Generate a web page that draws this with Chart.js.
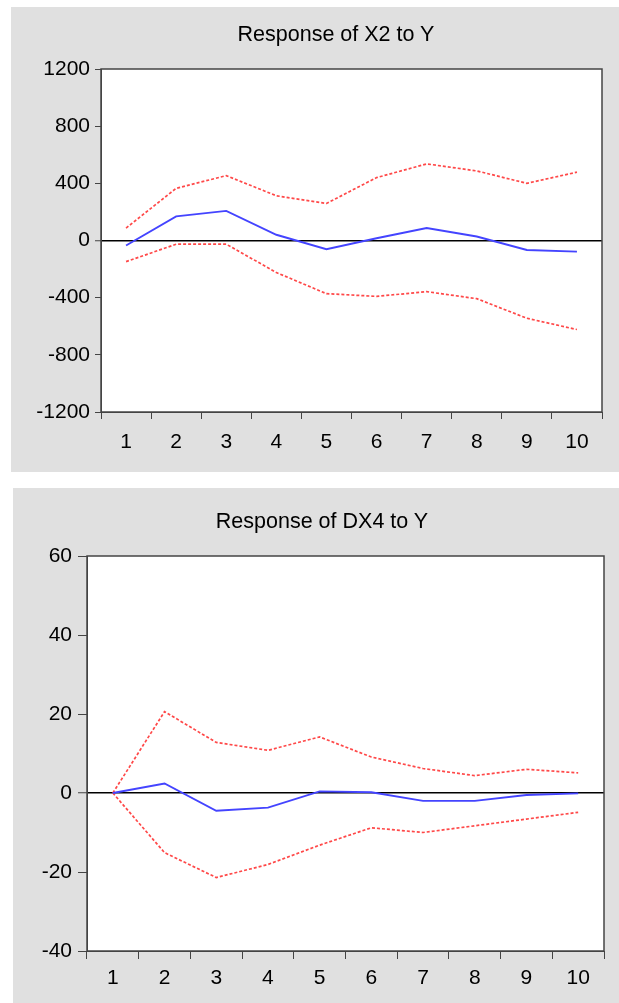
<!DOCTYPE html>
<html>
<head>
<meta charset="utf-8">
<script src="https://cdn.jsdelivr.net/npm/chart.js@4.4.1/dist/chart.umd.min.js"></script>
<style>
  body { margin: 0; background: #fff; width: 619px; height: 1003px; position: relative; overflow: hidden; }
  .panel { position: absolute; background: #e0e0e0; }
  .titulo { position: absolute; font-family: "Liberation Sans", Arial, sans-serif; font-size: 21.5px; line-height: 21.5px; color: #000; white-space: nowrap; transform: translateX(-50%); }
  canvas { position: absolute; }
</style>
</head>
<body>
<div class="panel" style="left:11px; top:7px; width:608px; height:465px;"></div>
<div class="panel" style="left:13px; top:488px; width:606px; height:515px;"></div>
<canvas id="graficoX2" width="608" height="465" style="left:11px; top:7px;"></canvas>
<canvas id="graficoDX4" width="606" height="515" style="left:13px; top:488px;"></canvas>
<div class="titulo" style="left:336px; top:24px;">Response of X2 to Y</div>
<div class="titulo" style="left:322px; top:511px;">Response of DX4 to Y</div>
<script>
// Periodos
const periodos = ["1", "2", "3", "4", "5", "6", "7", "8", "9", "10"]

// Respuesta de X2 a Y
const x2Respuesta = [-35, 169, 207, 40, -61, 16, 87, 28, -66, -78]
const x2Superior = [87, 365, 454, 313, 259, 440, 536, 487, 400, 478]
const x2Inferior = [-148, -26, -26, -224, -372, -391, -358, -407, -544, -623]
const x2Ticks = [-1200, -800, -400, 0, 400, 800, 1200]

// Respuesta de DX4 a Y
const dx4Respuesta = [0, 2.4, -4.5, -3.7, 0.4, 0.2, -2.0, -2.0, -0.5, -0.1]
const dx4Superior = [0, 20.6, 12.8, 10.8, 14.2, 9.1, 6.2, 4.4, 6.0, 5.1]
const dx4Inferior = [0, -15.1, -21.4, -18.1, -13.2, -8.8, -10.0, -8.3, -6.6, -4.9]
const dx4Ticks = [-40, -20, 0, 20, 40, 60]

const colores = {
  azul: "#4444ff",
  rojo: "#ff4848",
  ejes: "#444",
}

const fuente = { family: "'Liberation Sans', Arial, sans-serif", size: 21 }

// Fondo blanco y marco del area del grafico
const marcoPlugin = {
  id: "marco",
  beforeDraw(chart) {
    const a = chart.chartArea
    const ctx = chart.ctx
    ctx.save()
    ctx.fillStyle = "#fff"
    ctx.fillRect(a.left, a.top, a.right - a.left, a.bottom - a.top)
    ctx.restore()
  },
  afterDraw(chart) {
    const a = chart.chartArea
    const ctx = chart.ctx
    ctx.save()
    ctx.strokeStyle = colores.ejes
    ctx.lineWidth = 1.5
    ctx.strokeRect(a.left, a.top, a.right - a.left, a.bottom - a.top)
    ctx.restore()
  },
}

function crearGrafico(id, respuesta, superior, inferior, ticks, c) {
  const ctx = document.getElementById(id).getContext("2d")
  return new Chart(ctx, {
    type: "line",
    data: {
      labels: periodos,
      datasets: [
        { data: respuesta, borderColor: colores.azul, borderWidth: 1.9 },
        { data: superior, borderColor: colores.rojo, borderWidth: 1.7, borderDash: [3, 2] },
        { data: inferior, borderColor: colores.rojo, borderWidth: 1.7, borderDash: [3, 2] },
      ],
    },
    options: {
      responsive: false,
      animation: false,
      events: [],
      elements: { point: { radius: 0 }, line: { tension: 0 } },
      layout: { padding: { left: 0, top: c.top, right: c.right, bottom: 0 } },
      plugins: { legend: { display: false }, title: { display: false }, tooltip: { enabled: false } },
      scales: {
        x: {
          offset: true,
          afterFit: (s) => { s.height = c.altoX },
          grid: { offset: true, drawOnChartArea: false, color: colores.ejes, tickLength: c.tickX, lineWidth: 1 },
          border: { color: colores.ejes, width: 1 },
          ticks: { color: "#000", font: fuente, padding: c.padX, maxRotation: 0, autoSkip: false },
        },
        y: {
          min: ticks[0],
          max: ticks[ticks.length - 1],
          afterFit: (s) => { s.width = c.anchoY },
          afterBuildTicks: (s) => { s.ticks = ticks.map((v) => ({ value: v })) },
          grid: {
            color: (g) => (g.tick && g.tick.value === 0 ? "#000" : "rgba(0,0,0,0)"),
            lineWidth: (g) => (g.tick && g.tick.value === 0 ? 1.5 : 1),
            tickColor: colores.ejes,
            tickWidth: 1,
            tickLength: c.tickY,
          },
          border: { color: colores.ejes, width: 1 },
          ticks: { color: "#000", font: fuente, padding: c.padY, callback: (v) => String(v) },
        },
      },
    },
    plugins: [marcoPlugin],
  })
}

crearGrafico("graficoX2", x2Respuesta, x2Superior, x2Inferior, x2Ticks,
  { top: 62, right: 17, altoX: 60, anchoY: 90, tickX: 7, padX: 11, tickY: 6, padY: 5 })

crearGrafico("graficoDX4", dx4Respuesta, dx4Superior, dx4Inferior, dx4Ticks,
  { top: 68, right: 15, altoX: 52, anchoY: 74, tickX: 8, padX: 7, tickY: 9, padY: 6 })
</script>
</body>
</html>
